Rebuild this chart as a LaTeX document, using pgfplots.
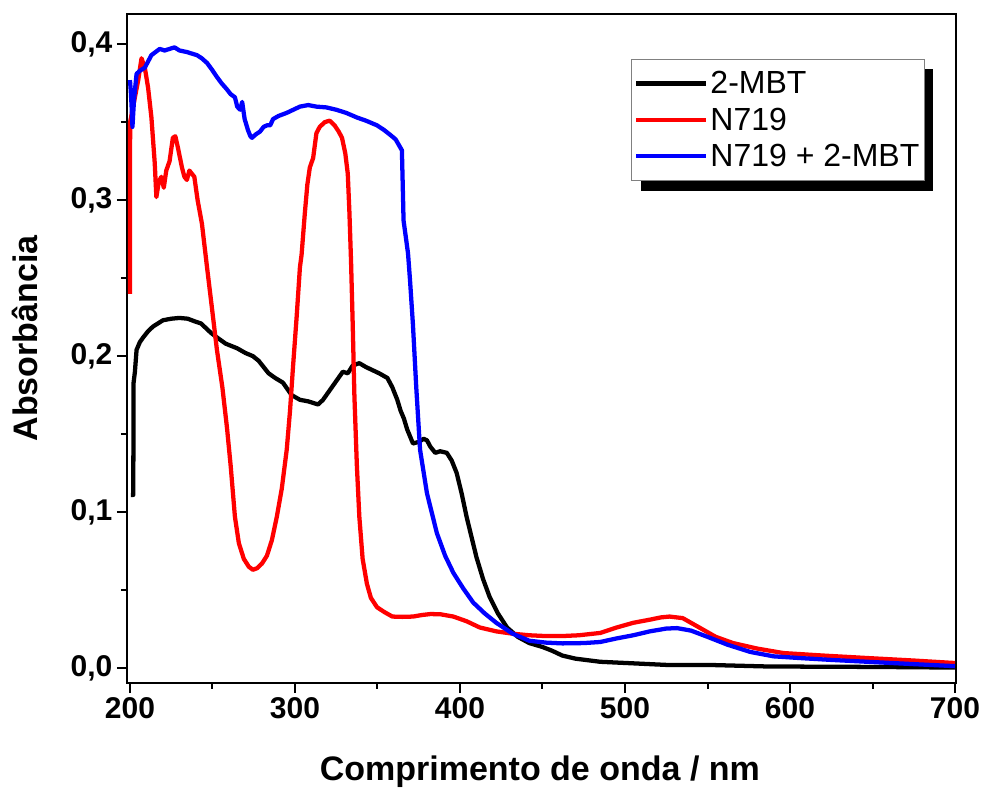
\documentclass[border=0pt]{standalone}
\usepackage{pgfplots}
\pgfplotsset{compat=1.18}
\usepackage{fontspec}
\setmainfont{Liberation Sans}
\begin{document}
\begin{tikzpicture}
\begin{axis}[
 scale only axis, width=621.75pt, height=501.75pt,
 at={(0pt,0pt)}, anchor=south west,
 xmin=198.2, xmax=700.6, ymin=-0.0096, ymax=0.4194,
 xtick={200,300,400,500,600,700}, minor xtick={250,350,450,550,650},
 ytick={0,0.1,0.2,0.3,0.4}, minor ytick={0.05,0.15,0.25,0.35},
 xtick pos=bottom, ytick pos=left,
 tick align=outside,
 major tick length=7.5pt, minor tick length=4.5pt,
 every tick/.style={black, line width=1.5pt},
 axis line style={line width=1.5pt},
 ticklabel style={font=\fontsize{22.5}{26}\selectfont\bfseries},
 /pgf/number format/assume math mode=true,
 yticklabel style={/pgf/number format/.cd, fixed, fixed zerofill, precision=1, use comma},
 xticklabel style={/pgf/number format/.cd, fixed, precision=0},
 scaled y ticks=false,
 xlabel={Comprimento de onda / nm},
 ylabel={Absorbância},
 label style={font=\fontsize{25.5}{30}\selectfont\bfseries},
 xlabel style={at={(axis description cs:0.498,-0.108)}, anchor=north, inner sep=0pt},
 ylabel style={at={(axis description cs:-0.139,0.515)}, anchor=north, inner sep=0pt},
 legend style={at={(axis description cs:0.608,0.933)}, anchor=north west,
   draw=gray, line width=0.75pt, fill=white,
   font=\fontsize{24}{29}\selectfont,
   inner xsep=2pt, inner ysep=7pt, row sep=5pt},
 legend cell align=left,
 legend image code/.code={\draw[#1] (0pt,0pt) -- (52pt,0pt);},
 every axis plot/.append style={line width=3.2pt, line join=round},
]
\fill[black] (axis description cs:0.620,0.9178) rectangle (axis description cs:0.9723,0.7354);
\addplot[black] coordinates {
(200.5,0.111) (202,0.111) (202.2,0.183) (203,0.19) (204,0.204) (206,0.209) (208,0.212)
(211,0.216) (214,0.219) (217,0.221) (220,0.223) (225,0.224) (230,0.2245) (235,0.224)
(240,0.222) (243,0.221) (246,0.218) (249,0.215) (252.7,0.212) (258,0.208) (265,0.205)
(270,0.202) (274.5,0.200) (278,0.197) (281,0.193) (284,0.189) (288,0.186) (292.7,0.183)
(296,0.178) (298,0.175) (303,0.172) (308,0.171) (314,0.169) (317,0.172) (321,0.178)
(325,0.184) (329,0.19) (332,0.189) (335,0.194) (339,0.1955) (343,0.193) (347,0.191)
(351,0.189) (356,0.186) (359,0.18) (362,0.172) (364,0.165) (366,0.16) (368,0.153)
(371.5,0.144) (375,0.145) (378,0.147) (380,0.146) (382,0.142) (385,0.138) (388,0.139)
(392,0.138) (395,0.133) (398,0.125) (401,0.112) (404,0.097) (407,0.084) (410,0.071)
(414,0.057) (418,0.0455) (423,0.035) (428.5,0.026) (435,0.020) (442,0.016) (450,0.0135)
(456,0.011) (462,0.008) (470,0.006) (485,0.004) (505,0.003) (525,0.002) (550,0.002)
(586,0.001) (650,0.0007) (700,0.0003)
};
\addlegendentry{2-MBT}
\addplot[red] coordinates {
(200,0.24) (200.1,0.35) (201,0.355) (203,0.366) (205,0.377) (207,0.391) (209,0.385)
(211,0.372) (213,0.353) (215,0.324) (216,0.302) (217.5,0.312) (219,0.315) (220.5,0.308)
(222,0.319) (224,0.325) (226,0.34) (227.5,0.341) (229,0.334) (231.5,0.321) (233,0.315)
(234.5,0.313) (236,0.319) (237.5,0.317) (239,0.315) (241,0.30) (243.6,0.285) (246.7,0.257)
(250,0.228) (252.7,0.204) (256,0.18) (258.8,0.154) (261,0.13) (263.6,0.097) (266,0.08)
(269,0.07) (272,0.065) (274.5,0.063) (277,0.064) (280,0.067) (283,0.072) (286,0.082)
(289,0.097) (292,0.115) (295,0.14) (297,0.165) (298.8,0.193) (301,0.225) (303,0.257)
(304,0.265) (306,0.292) (307.5,0.31) (309,0.321) (311,0.327) (313,0.343) (315,0.347)
(318,0.350) (321,0.351) (324,0.348) (326.5,0.344) (328.5,0.34) (330.5,0.33) (332,0.317)
(333,0.292) (334,0.26) (335,0.22) (336,0.175) (337.5,0.13) (339,0.097) (341,0.07)
(343.6,0.054) (346,0.045) (349.7,0.039) (354,0.036) (359,0.033) (365,0.0328) (371.5,0.033)
(377,0.034) (382,0.0346) (388,0.0345) (396,0.033) (404,0.030) (412,0.026) (422,0.0235)
(432,0.022) (442,0.021) (452,0.0205) (462,0.0205) (472,0.021) (485,0.0225) (495,0.026)
(505,0.029) (515,0.031) (522,0.0325) (527,0.033) (535,0.032) (545,0.026) (555,0.020)
(565.5,0.016) (580,0.0125) (596,0.0096) (620,0.008) (647,0.0064) (675,0.0048) (700,0.0032)
};
\addlegendentry{N719}
\addplot[blue] coordinates {
(200,0.377) (200.5,0.37) (201,0.36) (201.5,0.347) (202.5,0.365) (204,0.381) (206,0.383)
(209,0.385) (211,0.389) (213,0.393) (215.5,0.395) (218,0.397) (221,0.396) (224,0.397)
(227,0.398) (230,0.396) (234.5,0.395) (237.5,0.394) (240.6,0.393) (243.5,0.391) (246.7,0.388)
(249.5,0.384) (252.7,0.379) (255.5,0.375) (258.8,0.371) (261,0.368) (263.6,0.366) (265,0.360)
(266.7,0.358) (268,0.363) (269.5,0.352) (271.5,0.345) (273,0.341) (274,0.340) (276,0.342)
(278.8,0.344) (281,0.347) (283,0.348) (285,0.348) (286.7,0.352) (290,0.354) (295,0.356)
(299,0.358) (303,0.36) (308,0.361) (313,0.36) (319,0.3595) (325,0.358) (331,0.356)
(337.6,0.353) (343,0.351) (349.7,0.348) (354,0.345) (357.6,0.342) (361,0.339) (364.8,0.332)
(365.3,0.31) (365.8,0.287) (368.5,0.266) (369.7,0.249) (371.5,0.22) (373.5,0.18) (375.8,0.14)
(380,0.112) (386,0.0865) (391,0.072) (396,0.061) (402,0.051) (408,0.042) (415,0.035)
(422,0.029) (432,0.022) (442,0.0175) (452,0.0163) (462,0.0158) (475,0.016) (485,0.0167)
(495,0.019) (505,0.021) (515,0.0235) (525,0.0253) (531.5,0.0256) (540,0.024) (550,0.02)
(562,0.015) (576,0.0103) (590,0.0075) (606,0.0064) (625,0.0052) (647,0.004) (675,0.0025)
(700,0.0012)
};
\addlegendentry{N719 + 2-MBT}
\end{axis}
\pgfresetboundingbox
\path (-95.25pt,-79.5pt) rectangle (642pt,512.25pt);
\end{tikzpicture}
\end{document}
